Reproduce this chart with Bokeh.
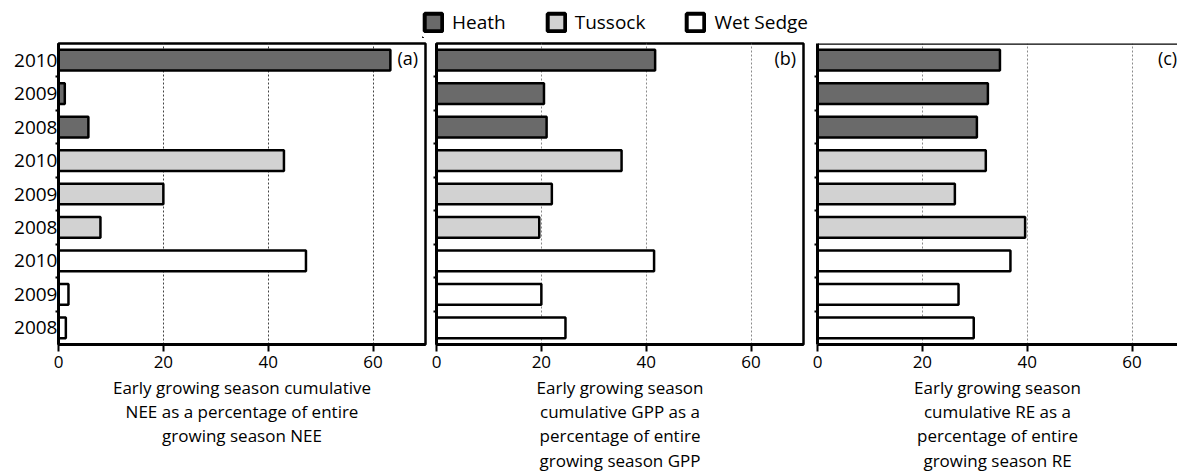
from bokeh.plotting import figure
from bokeh.models import Range1d, FixedTicker, Span, Label, Legend, LegendItem
from bokeh.layouts import column, row
from bokeh.embed import file_html
from bokeh.resources import INLINE

# ---------------- data ----------------
communities = ["Heath", "Tussock", "Wet Sedge"]
years = ["2010", "2009", "2008"]
row_labels = years * 3  # top to bottom

nee_heath = [63.3, 1.2, 5.7]
nee_tussock = [43.0, 20.0, 8.0]
nee_wet = [47.2, 1.9, 1.4]

gpp_heath = [41.7, 20.5, 21.0]
gpp_tussock = [35.3, 22.0, 19.6]
gpp_wet = [41.5, 20.0, 24.6]

re_heath = [34.8, 32.5, 30.4]
re_tussock = [32.1, 26.2, 39.6]
re_wet = [36.8, 26.9, 29.8]

x_ticks = [0, 20, 40, 60]
panel_tags = ["(a)", "(b)", "(c)"]
title_a = ["Early growing season cumulative", "NEE as a percentage of entire",
           "growing season NEE"]
title_b = ["Early growing season", "cumulative GPP as a",
           "percentage of entire", "growing season GPP"]
title_c = ["Early growing season", "cumulative RE as a",
           "percentage of entire", "growing season RE"]

# ---------------- layout / style ----------------
colors = ["#6a6a6a", "#d2d2d2", "#ffffff"]
FONT = "Open Sans"
n_rows = len(row_labels)
y_pos = [n_rows - 0.5 - i for i in range(n_rows)]
boundaries = list(range(1, n_rows))

FRAME_H = 301
TOP_B = 5
BOTTOM_B = 33
PANEL_H = TOP_B + FRAME_H + BOTTOM_B
TEXT_H = 471 - 38 - PANEL_H
TITLE_FIRST = 43 - BOTTOM_B     # first line centre below the panel figure, px
TITLE_STEP = 24.2


def make_panel(series, tag, title_lines, width, x_end, border_left,
               border_right, show_labels, outline, grid_color):
    p = figure(width=width, height=PANEL_H, x_range=Range1d(0, x_end),
               y_range=Range1d(0, n_rows), output_backend="svg",
               toolbar_location=None, min_border_left=border_left,
               min_border_right=border_right, min_border_top=TOP_B,
               min_border_bottom=BOTTOM_B)
    p.background_fill_color = "white"
    p.border_fill_color = "white"
    for k, vals in enumerate(series):
        ys = y_pos[3 * k:3 * k + 3]
        p.hbar(y=ys, left=0, right=vals, height=0.62, fill_color=colors[k],
               line_color="black", line_width=2.5)
    # frame
    if outline:
        p.outline_line_color = "black"
        p.outline_line_width = 2.5
        p.outline_line_alpha = 1
    else:
        p.outline_line_color = None
        p.add_layout(Span(location=n_rows, dimension="width",
                          line_color="black", line_width=2.5))
    # grid
    p.ygrid.visible = False
    p.xgrid.ticker = FixedTicker(ticks=x_ticks[1:])
    p.xgrid.grid_line_color = grid_color
    p.xgrid.grid_line_dash = "2 2"
    p.xgrid.grid_line_width = 1
    # x axis
    xa = p.xaxis[0]
    xa.ticker = FixedTicker(ticks=x_ticks)
    xa.axis_line_width = 3
    xa.axis_line_color = "black"
    xa.major_tick_out = 7
    xa.major_tick_in = 0
    xa.major_tick_line_width = 2
    xa.minor_tick_out = 0
    xa.minor_tick_in = 0
    xa.major_label_text_font = FONT
    xa.major_label_text_font_size = "17px"
    xa.major_label_text_color = "black"
    xa.major_label_standoff = 4
    # y axis
    ya = p.yaxis[0]
    ya.ticker = FixedTicker(ticks=y_pos, minor_ticks=boundaries)
    ya.major_label_overrides = {y: lab for y, lab in zip(y_pos, row_labels)}
    ya.axis_line_width = 3
    ya.axis_line_color = "black"
    ya.major_tick_out = 0
    ya.major_tick_in = 0
    ya.minor_tick_out = 3
    ya.minor_tick_in = 0
    ya.minor_tick_line_width = 2
    if show_labels:
        ya.major_label_text_font = FONT
        ya.major_label_text_font_size = "19px"
        ya.major_label_text_color = "black"
        ya.major_label_standoff = -2
    else:
        ya.major_label_text_font_size = "0px"
        ya.major_label_standoff = 0
    p.add_layout(Label(x=68.6, y=n_rows - 0.42, text=tag, text_align="right",
                       text_baseline="middle", text_font=FONT,
                       text_font_size="18px", text_color="black"))

    # axis title in its own strip below the panel (its frame aligns with
    # the panel's frame, so it shares the panel's x range)
    t = figure(width=width, height=TEXT_H, x_range=Range1d(0, x_end),
               y_range=Range1d(0, TEXT_H), output_backend="svg",
               toolbar_location=None, min_border=0,
               x_axis_location=None, y_axis_location=None)
    t.outline_line_color = None
    t.xgrid.visible = False
    t.ygrid.visible = False
    for j, line in enumerate(title_lines):
        t.add_layout(Label(x=x_end / 2, y=TEXT_H - (TITLE_FIRST + j * TITLE_STEP),
                           text=line, text_align="center",
                           text_baseline="middle", text_font=FONT,
                           text_font_size="17px", text_color="black"))
    return column(p, t)


ca = make_panel([nee_heath, nee_tussock, nee_wet], panel_tags[0], title_a,
                430, 70, 58, 5, True, True, "#444444")
cb = make_panel([gpp_heath, gpp_tussock, gpp_wet], panel_tags[1], title_b,
                378, 70, 6, 5, False, True, "#8a8a8a")
cc = make_panel([re_heath, re_tussock, re_wet], panel_tags[2], title_c,
                369, 360 / (367 / 70), 9, 0, False, False, "#8a8a8a")

# ---------------- legend strip ----------------
lf = figure(width=1177, height=38, x_range=Range1d(0, 1), y_range=Range1d(0, 1),
            output_backend="svg", toolbar_location=None,
            min_border_left=422, min_border_top=9, min_border_right=0,
            min_border_bottom=0,
            x_axis_location=None, y_axis_location=None)
lf.outline_line_color = None
lf.xgrid.visible = False
lf.ygrid.visible = False
items = []
for k, name in enumerate(communities):
    r = lf.hbar(y=[-10], right=[-10], height=0.5, fill_color=colors[k],
                line_color="black", line_width=4)
    items.append(LegendItem(label=name, renderers=[r]))
legend = Legend(items=items, orientation="horizontal", location="top_left",
                glyph_width=22, glyph_height=22, label_height=22,
                label_standoff=8, spacing=39, padding=0, margin=0,
                border_line_color=None, background_fill_alpha=0,
                label_text_font=FONT, label_text_font_size="19px",
                label_text_color="black")
lf.add_layout(legend)

layout = column(lf, row(ca, cb, cc))
open("out.html", "w").write(file_html(layout, INLINE))
